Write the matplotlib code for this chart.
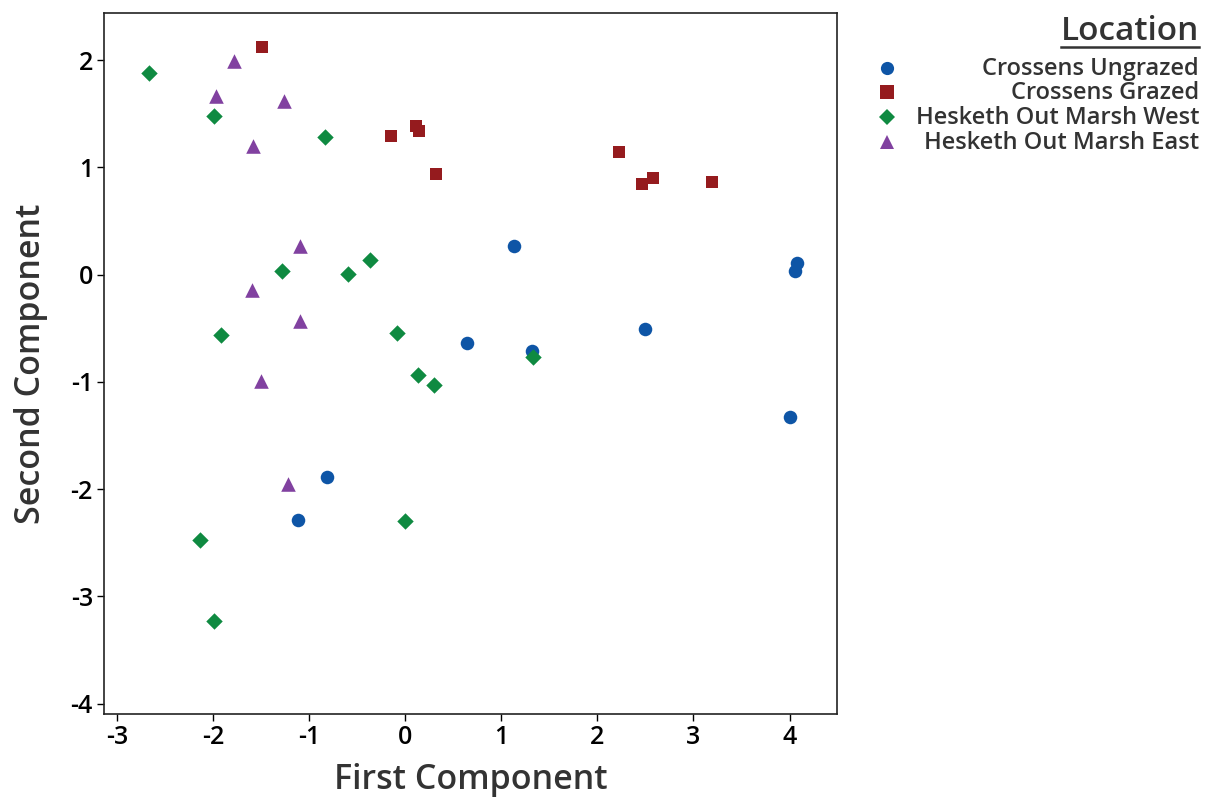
import matplotlib
matplotlib.use("Agg")
import matplotlib.pyplot as plt
from matplotlib.lines import Line2D

plt.rcParams['font.family'] = ['Open Sans', 'DejaVu Sans']

groups = ["Crossens Ungrazed", "Crossens Grazed", "Hesketh Out Marsh West", "Hesketh Out Marsh East"]
colors = ["#0E55A6", "#951B1E", "#0F8A41", "#8141A0"]
markers = ["o", "s", "D", "^"]
sizes = [95, 85, 70, 110]

cu_x = [1.13, 4.08, 4.06, 2.50, 0.645, 1.32, 4.00, -0.81, -1.12]
cu_y = [0.27, 0.11, 0.03, -0.51, -0.64, -0.71, -1.33, -1.89, -2.29]

cg_x = [-1.49, -0.15, 0.11, 0.14, 0.32, 2.22, 2.58, 2.46, 3.19]
cg_y = [2.12, 1.29, 1.39, 1.34, 0.94, 1.145, 0.905, 0.85, 0.86]

hw_x = [-2.67, -1.99, -0.84, -1.28, -0.60, -0.37, -1.915, -0.09, 0.135, 0.295, 1.33, 0.00, -2.14, -1.99]
hw_y = [1.88, 1.48, 1.28, 0.03, 0.01, 0.14, -0.565, -0.54, -0.935, -1.03, -0.765, -2.30, -2.47, -3.23]

he_x = [-1.78, -1.97, -1.265, -1.58, -1.10, -1.59, -1.10, -1.50, -1.22]
he_y = [1.99, 1.67, 1.62, 1.20, 0.265, -0.14, -0.43, -0.995, -1.95]

xs = [cu_x, cg_x, hw_x, he_x]
ys = [cu_y, cg_y, hw_y, he_y]

x_ticks = [-3, -2, -1, 0, 1, 2, 3, 4]
y_ticks = [-4, -3, -2, -1, 0, 1, 2]

fig = plt.figure(figsize=(12.08, 7.99), dpi=100)
ax = fig.add_axes([0.0861, 0.106, 0.6065, 0.8777])

for gx, gy, c, m, s in zip(xs, ys, colors, markers, sizes):
    ax.scatter(gx, gy, c=c, marker=m, s=s, linewidths=0, zorder=3)

ax.set_xlim(-3.135, 4.49)
ax.set_ylim(-4.1, 2.44)
ax.set_xticks(x_ticks)
ax.set_yticks(y_ticks)
ax.set_xticklabels([str(t) for t in x_ticks])
ax.set_yticklabels([str(t) for t in y_ticks])
ax.tick_params(labelsize=18, length=5, width=1, colors="#000000", pad=3)
for lab in ax.get_xticklabels() + ax.get_yticklabels():
    lab.set_fontweight("semibold")
for sp in ax.spines.values():
    sp.set_linewidth(1.2)
    sp.set_color("#222222")

ax.set_xlabel("First Component", fontsize=24.5, fontweight="semibold", color="#333333", labelpad=9)
ax.set_ylabel("Second Component", fontsize=24.5, fontweight="semibold", color="#333333", labelpad=16)

# Legend (manual, right-aligned text)
title = fig.text(1199 / 1208, 1 - 32 / 799, "Location", ha="right", va="center",
                 fontsize=24, fontweight="semibold", color="#333333")
fig.canvas.draw()
bb = title.get_window_extent()
fig.add_artist(Line2D([bb.x0 / 1208, 1199 / 1208], [1 - 47 / 799, 1 - 47 / 799],
                      color="#333333", linewidth=1.8, transform=fig.transFigure))
leg_y = [69, 93, 118, 143]
for g, c, m, yy in zip(groups, colors, markers, leg_y):
    fy = 1 - yy / 799
    fig.add_artist(Line2D([887 / 1208], [1 - (yy - 1) / 799], marker=m, color=c,
                          markersize=9.5 if m != "D" else 8.5,
                          linestyle="none", markeredgewidth=0, transform=fig.transFigure))
    fig.text(1199 / 1208, fy, g, ha="right", va="center", fontsize=17,
             fontweight="semibold", color="#333333")

fig.savefig("out.png", dpi=100)
